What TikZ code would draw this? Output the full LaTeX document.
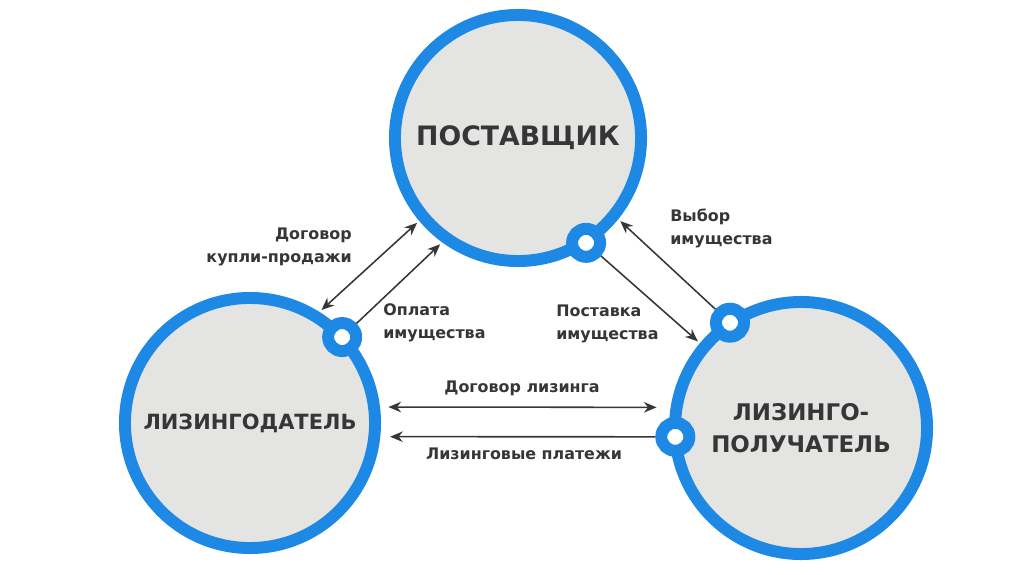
\documentclass[tikz,border=0pt]{standalone}
\usepackage{fontspec}
\setmainfont{DejaVu Sans}
\usepackage{tikz}
\usetikzlibrary{arrows.meta,calc}
\definecolor{RingBlue}{HTML}{1E88E5}
\definecolor{DiscGray}{HTML}{E4E4E2}
\definecolor{InkGray}{HTML}{363636}

\begin{document}
\begin{tikzpicture}[x=0.025cm,y=0.025cm,>={Stealth[length=9pt,width=7.5pt]},
  party/.style={circle,draw=RingBlue,line width=8.5pt,fill=DiscGray,text=InkGray,align=center,inner sep=0pt},
  knot/.style={circle,draw=RingBlue,line width=8.5pt,fill=white,minimum size=0.7cm,inner sep=0pt},
  flow/.style={draw=InkGray,line width=1.1pt},
  lbl/.style={text=InkGray,font=\bfseries\fontsize{11.3}{16.3}\selectfont,inner sep=0pt}]
  \fill[white] (0,0) rectangle (1024,574);
  \useasboundingbox (0,0) rectangle (1024,574);
  % the three parties
  \node[party,minimum size=6.15cm,font=\bfseries\fontsize{19}{23}\selectfont] (supplier) at (518,436) {ПОСТАВЩИК};
  \node[party,minimum size=6.25cm,font=\bfseries\fontsize{14.9}{18}\selectfont] (lessor) at (250,151) {ЛИЗИНГОДАТЕЛЬ};
  \node[party,minimum size=6.3cm,font=\bfseries\fontsize{16.3}{22.7}\selectfont] (lessee) at (801,146) {ЛИЗИНГО-\\ПОЛУЧАТЕЛЬ};
  % knots on the rings
  \node[knot] (dotsup) at ($(supplier.center)+(-57:125)$) {};
  \node[knot] (dotlessor) at ($(lessor.center)+(43:126)$) {};
  \node[knot] (dotlesseeA) at ($(lessee.center)+(124:127)$) {};
  \node[knot] (dotlesseeB) at ($(lessee.center)+(184:126)$) {};
  % flows
  \draw[flow,<->,shorten <=2pt,shorten >=2pt] (lessor.58) -- (supplier.220);
  \draw[flow,->,shorten >=2pt] (dotlessor) -- (supplier.234);
  \draw[flow,->,shorten >=2pt] (dotlesseeA) -- (supplier.321);
  \draw[flow,->,shorten >=2pt] (dotsup) -- (lessee.140);
  \draw[flow,<->,shorten <=6pt,shorten >=10pt] (lessor.7) -- (lessee.171);
  \draw[flow,->,shorten >=7pt] (dotlesseeB) -- (lessor.-6);
  % labels
  \node[lbl,anchor=east,align=right] (lblsale) at (352,327) {Договор\\купли-продажи};
  \node[lbl,anchor=west,align=left] (lblpay) at (383,251) {Оплата\\имущества};
  \node[lbl,anchor=west,align=left] (lblchoice) at (670,346) {Выбор\\имущества};
  \node[lbl,anchor=west,align=left] (lbldeliv) at (556,250) {Поставка\\имущества};
  \node[lbl] (lblcontract) at (522,186) {Договор лизинга};
  \node[lbl] (lblrent) at (524,120) {Лизинговые платежи};
\end{tikzpicture}
\end{document}
